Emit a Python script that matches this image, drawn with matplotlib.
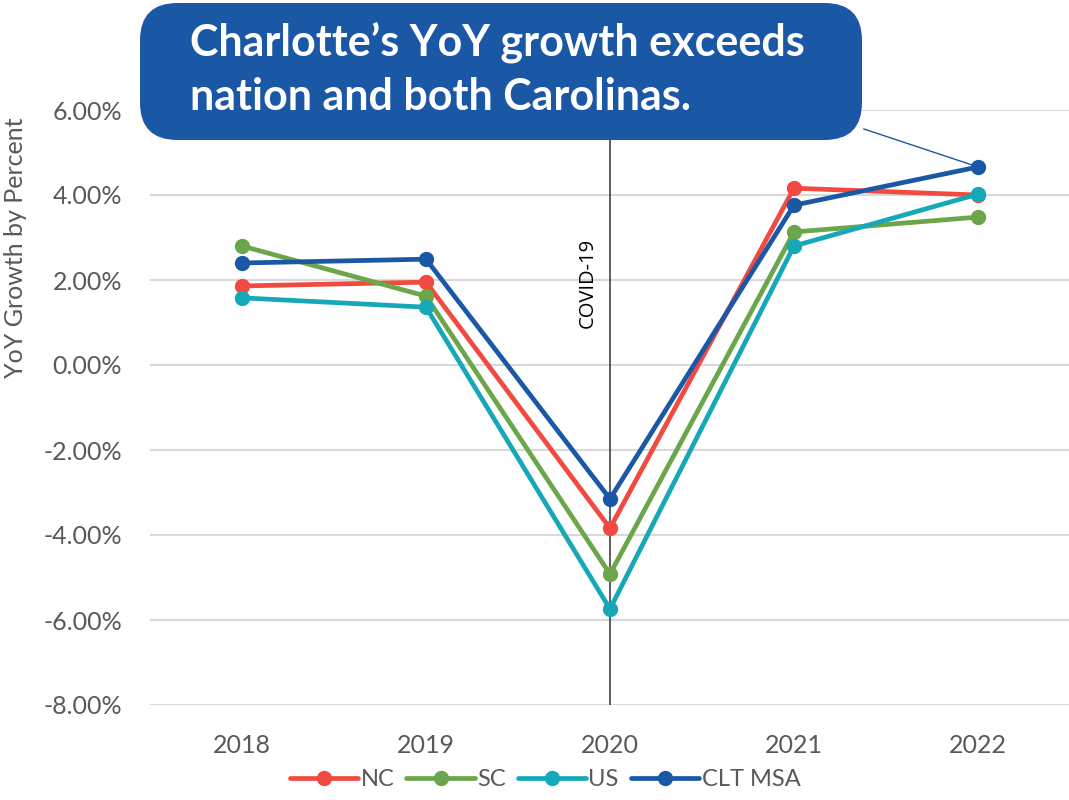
import matplotlib
matplotlib.use("Agg")
import matplotlib.pyplot as plt
from matplotlib.patches import FancyBboxPatch
from matplotlib.ticker import FuncFormatter

years = ["2018", "2019", "2020", "2021", "2022"]
nc = [1.86, 1.95, -3.84, 4.16, 4.00]
sc = [2.80, 1.62, -4.92, 3.13, 3.48]
us = [1.58, 1.36, -5.74, 2.80, 4.02]
clt = [2.40, 2.49, -3.15, 3.76, 4.66]
series_names = ["NC", "SC", "US", "CLT MSA"]
series_colors = ["#F04A41", "#6BA64A", "#17A8B8", "#1A58A6"]
yticks = [-8, -6, -4, -2, 0, 2, 4, 6]
title = "Charlotte\u2019s YoY growth exceeds\nnation and both Carolinas."

plt.rcParams['font.family'] = ['Lato', 'DejaVu Sans']

W, H = 1069, 800
fig = plt.figure(figsize=(W/100, H/100), dpi=100)
ax = fig.add_axes([150/W, 1-705/H, (W-150)/W, (705-110)/H])

x = list(range(len(years)))
for vals, name, col in zip([nc, sc, us, clt], series_names, series_colors):
    ax.plot(x, vals, color=col, lw=3.4, marker='o', markersize=10, label=name,
            solid_capstyle='round', zorder=3)

ax.set_xlim(-0.5, 4.5 - (1070-W)/184)
ax.set_ylim(-8, 6)
ax.set_yticks(yticks)
ax.yaxis.set_major_formatter(FuncFormatter(lambda v, p: f"{v:.2f}%"))
ax.set_xticks(x)
ax.set_xticklabels(years)
ax.tick_params(axis='both', length=0, labelsize=18, labelcolor="#595959")
ax.tick_params(axis='x', pad=21)
ax.tick_params(axis='y', pad=20)
ax.grid(axis='y', color="#D9D9D9", lw=1.5)
ax.set_axisbelow(True)
for s in ax.spines.values():
    s.set_visible(False)

ax.set_ylabel("YoY Growth by Percent", fontsize=18, color="#595959")
ax.yaxis.set_label_coords((27-150)/919, (705-248)/595)

ax.axvline(2, color="#333333", lw=1.1, zorder=2)
ax.text(1.88, 1.93, "COVID-19", rotation=90, ha='center', va='center', fontsize=14.5,
        color="black", family=['Open Sans', 'DejaVu Sans'])

leg = ax.legend(loc='center', bbox_to_anchor=(545/W, 1-780/H), bbox_transform=fig.transFigure,
                ncol=4, frameon=False, fontsize=17, handlelength=2.9, columnspacing=0.5,
                handletextpad=0.1, borderaxespad=0)
for t in leg.get_texts():
    t.set_color("#595959")

# callout box
box = FancyBboxPatch((140/W, 1-140/H), (862-140)/W, (140-3)/H,
                     boxstyle="round,pad=0,rounding_size=0.035",
                     transform=fig.transFigure, facecolor="#1A58A6", edgecolor="none",
                     mutation_aspect=W/H, zorder=5)
fig.patches.append(box)
fig.text(190/W, 1-69/H, title, ha='left', va='center', fontsize=31, fontweight='bold',
         color='white', linespacing=1.42, zorder=6)

ax.annotate('', xy=(4, clt[4]), xycoords='data',
            xytext=(861/W, 1-128/H), textcoords='figure fraction',
            arrowprops=dict(arrowstyle='-', color="#1A58A6", lw=1), zorder=4)

fig.savefig("out.png", dpi=100)
